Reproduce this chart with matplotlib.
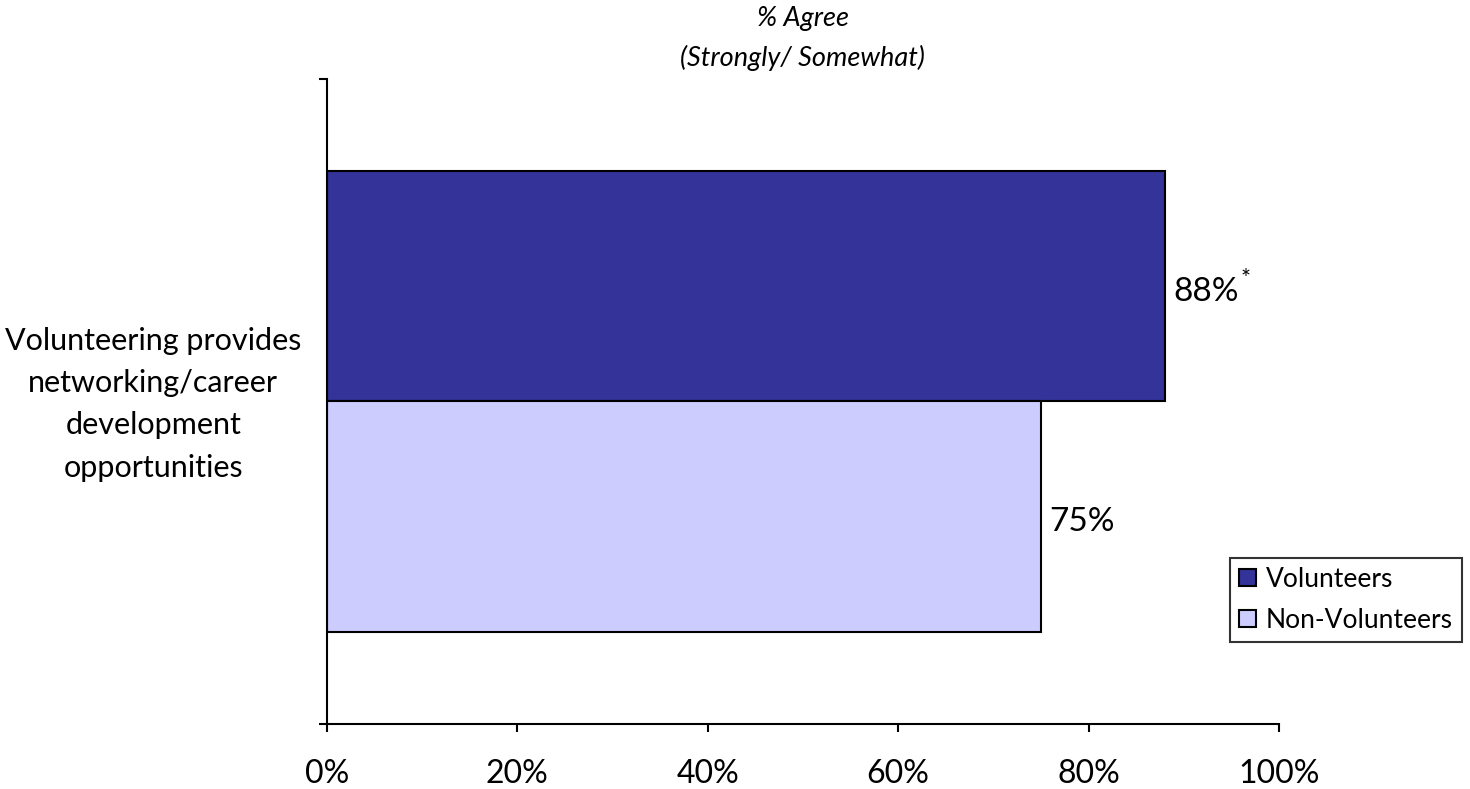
import matplotlib; matplotlib.use("Agg")
import matplotlib.pyplot as plt
from matplotlib.ticker import FixedLocator, PercentFormatter
from matplotlib.transforms import ScaledTranslation

plt.rcParams["font.family"] = ["Lato", "DejaVu Sans"]

category = "Volunteering provides\nnetworking/career\ndevelopment\nopportunities"
series = ["Volunteers", "Non-Volunteers"]
values = [88, 75]
marks = ["*", ""]
colors = ["#333399", "#CCCCFF"]

fig = plt.figure(figsize=(14.7, 7.89), dpi=100)
ax = fig.add_axes([0.2224, 0.0824, 0.6476, 0.8175])

h = 0.357
ypos = [h / 2, -h / 2]
for y, v, c, s, m in zip(ypos, values, colors, series, marks):
    ax.barh(y, v, height=h, color=c, edgecolor="black", linewidth=1.5, label=s)
    ax.text(v + 0.9, y - 0.008, f"{v}%", va="center", ha="left", fontsize=24)
    if m:
        ax.text(v + 8.0, y + 0.012, m, va="center", ha="left", fontsize=17)

ax.set_xlim(0, 100); ax.set_ylim(-0.5, 0.5)
ax.set_xticks(range(0, 101, 20))
ax.xaxis.set_major_formatter(PercentFormatter(decimals=0))
ax.tick_params(axis="x", direction="out", length=6, width=1.5, labelsize=23, pad=19)
ax.set_yticks([0]); ax.set_yticklabels([category], fontsize=22, ha="center", linespacing=1.62)
ax.tick_params(axis="y", length=0, pad=125)
# nudge the category label up a touch
for lab in ax.get_yticklabels():
    lab.set_transform(lab.get_transform() + ScaledTranslation(0, 5 / 72, fig.dpi_scale_trans))
ax.yaxis.set_minor_locator(FixedLocator([-0.5, 0.5]))
ax.tick_params(axis="y", which="minor", direction="out", length=6, width=1.5)
for s in ("top", "right"): ax.spines[s].set_visible(False)
for s in ("left", "bottom"): ax.spines[s].set_linewidth(1.5)

ax.set_title("% Agree\n(Strongly/ Somewhat)", fontsize=19.5, style="italic", pad=9, linespacing=1.7)

leg = ax.legend(loc="lower left", bbox_to_anchor=(1230 / 1470, 1 - 642 / 789), bbox_transform=fig.transFigure,
                fontsize=19, frameon=True, fancybox=False, edgecolor="black", handlelength=0.65, handleheight=0.65,
                handletextpad=0.35, borderpad=0.35, labelspacing=0.6, borderaxespad=0)
leg.get_frame().set_linewidth(1.5)

fig.savefig("out.png")
